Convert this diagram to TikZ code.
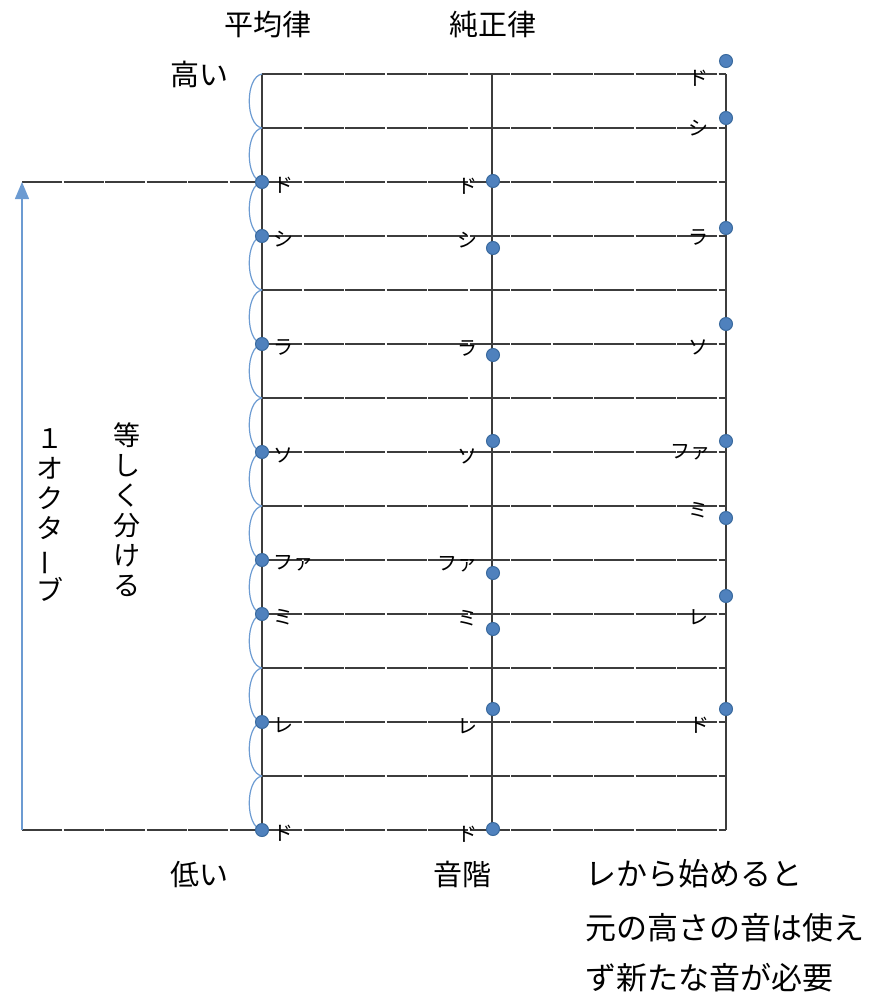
\documentclass[tikz,border=0pt]{standalone}
\usepackage{fontspec}
\setmainfont{Noto Sans CJK JP}
\usetikzlibrary{arrows.meta}
\definecolor{dotblue}{HTML}{4F81BD}
\definecolor{dotedge}{HTML}{3A6A9E}
\definecolor{arcblue}{HTML}{6C9BD2}
\definecolor{linegray}{HTML}{3C3C3C}
\tikzset{
  gridline/.style={draw=linegray, line width=1.4pt, dash pattern=on 40pt off 1.5pt},
  vline/.style={draw=linegray, line width=1.4pt},
  dotnode/.style={circle, fill=dotblue, draw=dotedge, line width=1pt, minimum size=13pt, inner sep=0pt},
  notelabel/.style={font=\fontsize{20}{22}\selectfont, inner sep=0pt},
  bigtext/.style={font=\fontsize{29}{32}\selectfont, inner sep=0pt},
  captext/.style={font=\fontsize{31}{34}\selectfont, inner sep=0pt},
  vtext/.style={font=\fontsize{27}{30}\selectfont, inner sep=0pt, align=center},
  arcsty/.style={draw=arcblue, line width=1.2pt},
  octarrow/.style={draw=arcblue, line width=1.4pt, -{Triangle[length=17pt,width=14pt]}}
}
\begin{document}
\begin{tikzpicture}[x=1pt,y=-1pt]
\useasboundingbox (0,0) rectangle (874,996);
% coordinates of the 15 horizontal lines
\foreach \i in {0,...,14}{
  \pgfmathsetmacro{\yy}{74+54*\i}
  \coordinate (L\i) at (262,\yy);
  \coordinate (M\i) at (492,\yy);
  \coordinate (R\i) at (726,\yy);
}
\coordinate (A2) at (22,182);
\coordinate (A14) at (22,830);
% horizontal lines
\foreach \i in {0,...,14}{
  \draw[gridline] (L\i) -- (R\i);
}
\draw[gridline] (A2) -- (L2);
\draw[gridline] (A14) -- (L14);
% vertical lines
\draw[vline] (L0) -- (L14);
\draw[vline] (M0) -- (M14);
\draw[vline] (R0) -- (R14);
% octave arrow
\draw[octarrow] (A14) -- (A2);
% equal-division arcs
\foreach \i [evaluate=\i as \j using int(\i+1)] in {0,...,13}{
  \draw[arcsty] (L\i) .. controls +(-17,3) and +(-17,-3) .. (L\j);
}
% equal temperament dots and labels
\foreach \k/\t [count=\n] in {2/ド,3/シ,5/ラ,7/ソ,9/ファ,10/ミ,12/レ,14/ド}{
  \node[dotnode] (et\n) at (L\k) {};
  \node[notelabel, anchor=west] (etl\n) at ([xshift=11pt,yshift=-3.5pt]L\k) {\t};
}
% just intonation (C) dots
\foreach \yy [count=\n] in {181,248,355,441,573,629,709,829}{
  \node[dotnode] (ji\n) at (493,\yy) {};
}
\foreach \k/\t [count=\n] in {2/ド,3/シ,5/ラ,7/ソ,9/ファ,10/ミ,12/レ,14/ド}{
  \node[notelabel, anchor=east] (jil\n) at ([xshift=-14pt,yshift=-4pt]M\k) {\t};
}
% just intonation (D) dots
\foreach \yy [count=\n] in {61,118,228,324,441,518,596,709}{
  \node[dotnode] (jd\n) at (726,\yy) {};
}
\foreach \xx/\yy/\t [count=\n] in {698/78/ド,698/128/シ,698/237/ラ,698/347/ソ,690/452/ファ,698/510/ミ,698/617/レ,699/725/ド}{
  \node[notelabel] (jdl\n) at (\xx,\yy) {\t};
}
% titles and captions
\node[bigtext] (t1) at (268,25) {平均律};
\node[bigtext] (t2) at (493,25) {純正律};
\node[bigtext] (hi) at (199,74) {高い};
\node[bigtext] (lo) at (199,874) {低い};
\node[bigtext] (scale) at (462,874) {音階};
\node[captext, anchor=west] (c1) at (585,874) {レから始めると};
\node[captext, anchor=west] (c2) at (585,928) {元の高さの音は使え};
\node[captext, anchor=west] (c3) at (585,978) {ず新たな音が必要};
\node[vtext] (oct) at (50,515) {１\\オ\\ク\\タ\\\rotatebox[origin=c]{90}{ー}\\ブ};
\node[vtext] (eq) at (127,510) {等\\し\\く\\分\\け\\る};
\end{tikzpicture}
\end{document}
